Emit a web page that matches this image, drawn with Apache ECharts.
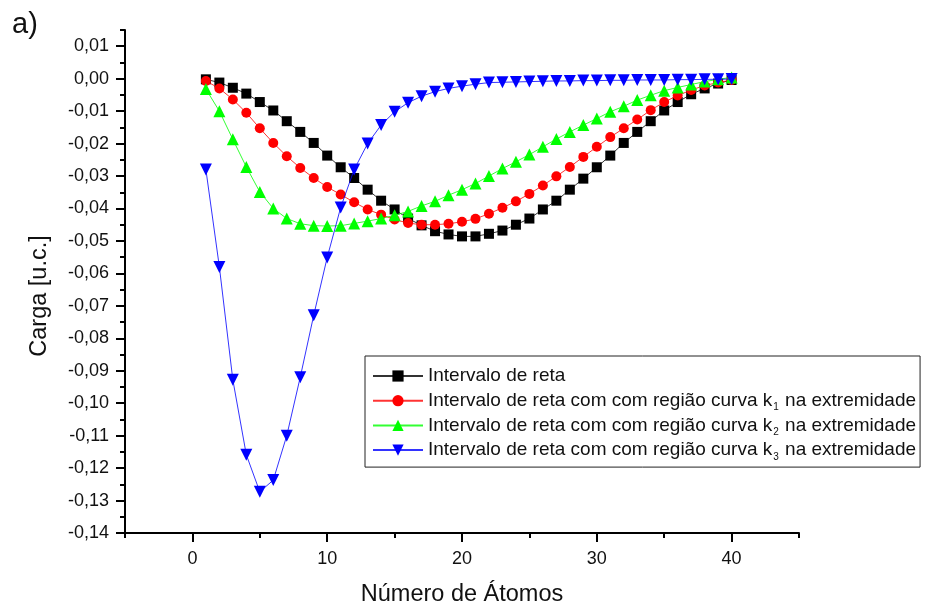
<!DOCTYPE html>
<html>
<head>
<meta charset="utf-8">
<script src="https://cdn.jsdelivr.net/npm/echarts@6/dist/echarts.min.js"></script>
<style>
html,body{margin:0;padding:0;background:#fff;}
#chart{width:927px;height:606px;}
</style>
</head>
<body>
<div id="chart"></div>
<script>
// ---- data ----
const atoms = [1,2,3,4,5,6,7,8,9,10,11,12,13,14,15,16,17,18,19,20,21,22,23,24,25,26,27,28,29,30,31,32,33,34,35,36,37,38,39,40];

const seriesNames = [
  'Intervalo de reta',
  'Intervalo de reta com com região curva k1 na extremidade',
  'Intervalo de reta com com região curva k2 na extremidade',
  'Intervalo de reta com com região curva k3 na extremidade'
];

const reta = [-0.0002,-0.0012,-0.0028,-0.0046,-0.0072,-0.0098,-0.0131,-0.0164,-0.0198,-0.0237,
  -0.0273,-0.0306,-0.0342,-0.0376,-0.0403,-0.0431,-0.0452,-0.0470,-0.0480,-0.0486,
  -0.0486,-0.0478,-0.0468,-0.0450,-0.0431,-0.0403,-0.0376,-0.0342,-0.0308,-0.0273,
  -0.0237,-0.0198,-0.0164,-0.0131,-0.0098,-0.0072,-0.0048,-0.0030,-0.0015,-0.0004];

const curvaK1 = [-0.0007,-0.0030,-0.0064,-0.0105,-0.0153,-0.0198,-0.0239,-0.0275,-0.0306,-0.0334,
  -0.0357,-0.0381,-0.0403,-0.0419,-0.0434,-0.0445,-0.0450,-0.0450,-0.0447,-0.0441,
  -0.0432,-0.0416,-0.0398,-0.0378,-0.0355,-0.0329,-0.0301,-0.0272,-0.0241,-0.0210,
  -0.0180,-0.0153,-0.0126,-0.0097,-0.0072,-0.0052,-0.0035,-0.0021,-0.0012,-0.0004];

const curvaK2 = [-0.0032,-0.0100,-0.0187,-0.0272,-0.0349,-0.0400,-0.0431,-0.0447,-0.0453,-0.0454,
  -0.0453,-0.0446,-0.0439,-0.0431,-0.0421,-0.0409,-0.0392,-0.0378,-0.0359,-0.0342,
  -0.0323,-0.0300,-0.0277,-0.0256,-0.0234,-0.0210,-0.0186,-0.0164,-0.0143,-0.0123,
  -0.0102,-0.0085,-0.0066,-0.0051,-0.0037,-0.0027,-0.0018,-0.0009,-0.0002,0.0004];

const curvaK3 = [-0.0280,-0.0580,-0.0928,-0.1159,-0.1273,-0.1237,-0.1100,-0.0920,-0.0729,-0.0551,
  -0.0397,-0.0280,-0.0200,-0.0143,-0.0102,-0.0074,-0.0054,-0.0040,-0.0030,-0.0023,
  -0.0017,-0.0012,-0.0011,-0.0010,-0.0009,-0.0008,-0.0007,-0.0007,-0.0006,-0.0006,
  -0.0005,-0.0005,-0.0004,-0.0004,-0.0004,-0.0003,-0.0003,-0.0002,-0.0002,-0.0001];

const xTicks = [0,10,20,30,40];
const xMinorTicks = [-5,5,15,25,35,45];
const yTicks = [-0.14,-0.13,-0.12,-0.11,-0.10,-0.09,-0.08,-0.07,-0.06,-0.05,-0.04,-0.03,-0.02,-0.01,0,0.01];
const yMinorTicks = [-0.135,-0.125,-0.115,-0.105,-0.095,-0.085,-0.075,-0.065,-0.055,-0.045,-0.035,-0.025,-0.015,-0.005,0.005,0.015];

const colors = ['#000000','#ff0000','#00ff00','#0000ff'];
const symbols = ['rect','circle','triangle','triangle'];
const symbolSizes = [10,10,12,12];
const symbolRotates = [0,0,0,180];
const values = [reta, curvaK1, curvaK2, curvaK3];

// ---- chart ----
const FONT = "'Liberation Sans', Arial, sans-serif";
const chart = echarts.init(document.getElementById('chart'), null, {renderer:'canvas'});

const fmtY = v => {
  const r = Math.round(v*100)/100;
  const s = Math.abs(r).toFixed(2).replace('.', ',');
  return (r < 0 ? '-' : '') + s;
};

const axisCommon = {
  type: 'value',
  splitLine: {show:false},
  axisLine: {show:true, onZero:false, lineStyle:{color:'#000', width:2}},
};

const option = {
  backgroundColor: '#fff',
  animation: false,
  grid: {left:125, right:128, top:30, bottom:73, containLabel:false, outerBoundsMode:'none'},
  xAxis: [
    Object.assign({}, axisCommon, {
      min:-5, max:45, position:'bottom',
      name:'Número de Átomos', nameLocation:'middle', nameGap:50,
      nameTextStyle:{fontFamily:FONT, fontSize:23.5, color:'#111'},
      axisTick:{show:true, inside:false, length:9, lineStyle:{color:'#000', width:2}, customValues:xTicks},
      axisLabel:{show:true, margin:17, fontFamily:FONT, fontSize:18, color:'#111', customValues:xTicks}
    }),
    Object.assign({}, axisCommon, {
      min:-5, max:45, position:'bottom',
      axisLine:{show:false, onZero:false},
      axisTick:{show:true, inside:false, length:5, lineStyle:{color:'#000', width:2}, customValues:xMinorTicks},
      axisLabel:{show:false}
    })
  ],
  yAxis: [
    Object.assign({}, axisCommon, {
      min:-0.14, max:0.015, position:'left',
      axisTick:{show:true, inside:false, length:9, lineStyle:{color:'#000', width:2}, customValues:yTicks},
      axisLabel:{show:true, margin:16, fontFamily:FONT, fontSize:18, color:'#111', customValues:yTicks, formatter:fmtY}
    }),
    Object.assign({}, axisCommon, {
      min:-0.14, max:0.015, position:'left',
      axisLine:{show:false, onZero:false},
      axisTick:{show:true, inside:false, length:5, lineStyle:{color:'#000', width:2}, customValues:yMinorTicks},
      axisLabel:{show:false}
    })
  ],
  legend: {
    left:365, top:356, orient:'vertical',
    backgroundColor:'#fff', borderColor:'#222', borderWidth:1, borderRadius:0,
    padding:[8,4,5,7], itemGap:0.7, itemWidth:50, itemHeight:14,
    data: seriesNames,
    formatter: name => name.replace(/k(\d)/, 'k{sub|$1}'),
    textStyle:{
      fontFamily:FONT, fontSize:19, color:'#111', lineHeight:24,
      rich:{ sub:{fontFamily:FONT, fontSize:10, color:'#111', verticalAlign:'bottom', lineHeight:12, padding:[0,1,0,1]} }
    }
  },
  graphic: [
    {type:'text', left:12, top:10, style:{text:'a)', fontFamily:FONT, fontSize:29, fill:'#111'}},
    {type:'text', x:40, y:296, rotation:Math.PI/2,
     style:{text:'Carga [u.c.]', fontFamily:FONT, fontSize:23.5, fill:'#111', align:'center', verticalAlign:'middle'}}
  ],
  series: seriesNames.map((n, i) => ({
    name: n,
    type: 'line',
    xAxisIndex: 0, yAxisIndex: 0,
    data: atoms.map((x, j) => [x, values[i][j]]),
    symbol: symbols[i],
    symbolSize: symbolSizes[i],
    symbolRotate: symbolRotates[i],
    showAllSymbol: true,
    itemStyle: {color: colors[i]},
    lineStyle: {color: colors[i], width: 1, opacity: 0.8},
    z: 2 + i
  }))
};
chart.setOption(option);
</script>
</body>
</html>
